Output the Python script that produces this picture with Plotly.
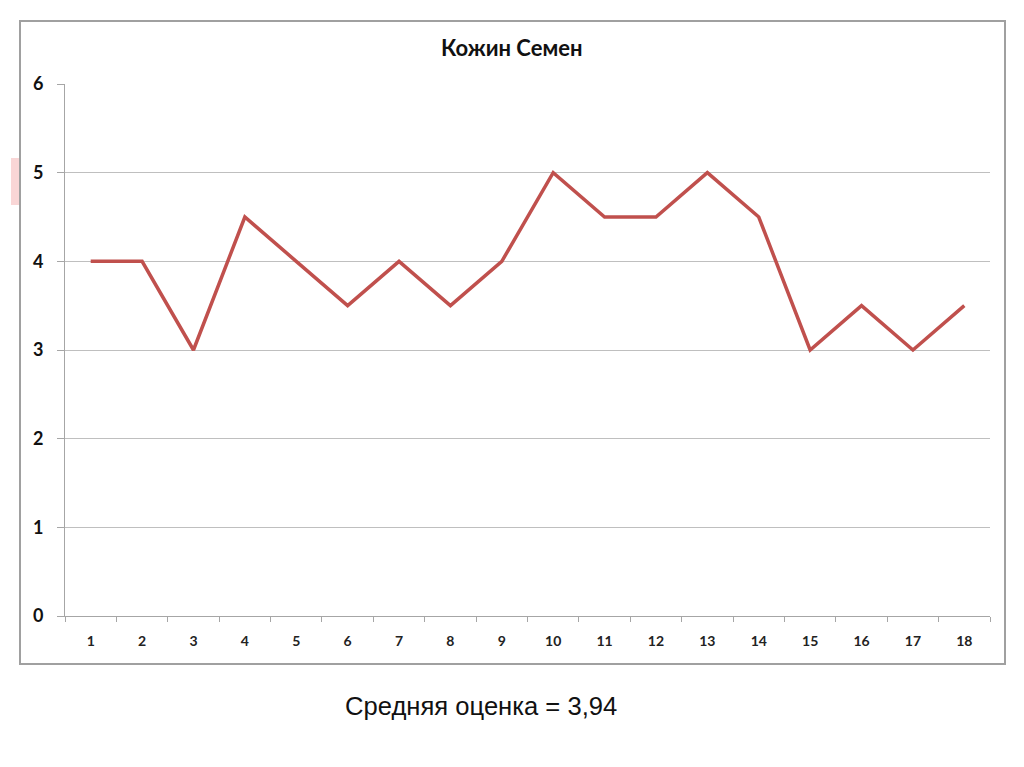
import plotly.graph_objects as go

categories = [str(i) for i in range(1, 19)]
scores = [4, 4, 3, 4.5, 4, 3.5, 4, 3.5, 4, 5, 4.5, 4.5, 5, 4.5, 3, 3.5, 3, 3.5]
y_ticks = [0, 1, 2, 3, 4, 5, 6]
title_text = "Кожин Семен"
caption_text = "Средняя оценка = 3,94"

W, H = 1024, 767
OFF = 8  # page body margin
def px(x): return (x - OFF) / W
def py(y): return 1 - (y - OFF) / H

fig = go.Figure()
fig.add_trace(go.Scatter(
    x=categories, y=scores, mode="lines",
    line=dict(color="#C0504D", width=3.5),
    hoverinfo="skip", showlegend=False,
))

fig.update_layout(
    template="none",
    width=W, height=H,
    margin=dict(l=0, r=0, t=0, b=0, pad=0),
    paper_bgcolor="white", plot_bgcolor="white",
    showlegend=False,
    xaxis=dict(
        type="category", domain=[px(65), px(990)], automargin=False,
        range=[-0.5, len(categories) - 0.5],
        tickson="boundaries", ticks="outside", ticklen=5, tickcolor="#a6a6a6",
        showline=True, linecolor="#a6a6a6", linewidth=1,
        showgrid=False, zeroline=False,
        tickfont=dict(family="Lato", size=14, color="#222222", weight="bold"),
        ticklabelstandoff=12,
    ),
    yaxis=dict(
        domain=[py(616), py(84)], range=[0, 6], automargin=False,
        tickvals=y_ticks, ticks="outside", ticklen=7, tickcolor="#a6a6a6",
        showline=True, linecolor="#a6a6a6", linewidth=1,
        showgrid=True, gridcolor="#bfbfbf", gridwidth=1, zeroline=False,
        tickfont=dict(family="Lato", size=18, color="#111111", weight="bold"),
        ticklabelstandoff=10,
    ),
    shapes=[
        dict(type="rect", xref="paper", yref="paper",
             x0=px(11), x1=px(19), y0=py(205), y1=py(158),
             fillcolor="rgba(235,120,120,0.3)", line=dict(width=0), layer="below"),
        dict(type="rect", xref="paper", yref="paper",
             x0=px(20), x1=px(1005), y0=py(664), y1=py(21),
             line=dict(color="#a0a0a0", width=2), fillcolor="rgba(0,0,0,0)"),
    ],
    annotations=[
        dict(text=title_text, xref="paper", yref="paper", x=px(511), y=py(48),
             showarrow=False, xanchor="center", yanchor="middle",
             font=dict(family="Lato", size=22, color="#111111", weight="bold")),
        dict(text=caption_text, xref="paper", yref="paper", x=px(481), y=py(706),
             showarrow=False, xanchor="center", yanchor="middle",
             font=dict(family="Liberation Sans", size=25.6, color="#111111")),
    ],
)

fig.write_html("out.html")
